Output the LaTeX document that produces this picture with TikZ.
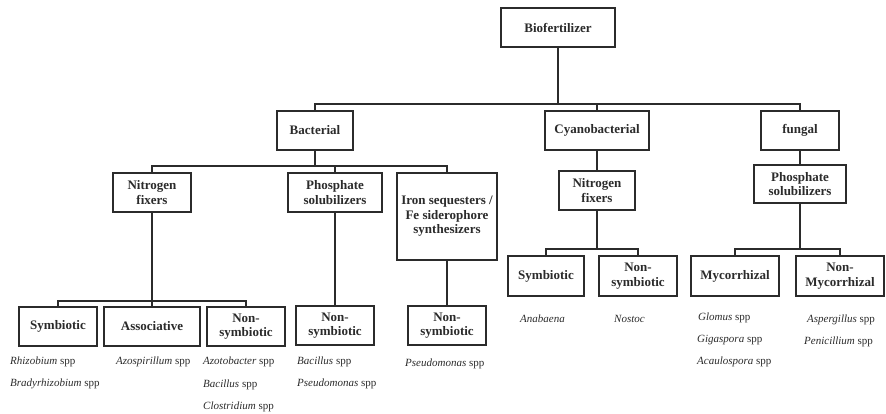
\documentclass[tikz,border=0pt]{standalone}
\usepackage{fontspec}
\setmainfont{Liberation Serif}
\usepackage{tikz}
\usetikzlibrary{positioning}
\definecolor{inkgray}{HTML}{2B2B2B}

\begin{document}
\begin{tikzpicture}[
    x=1pt, y=-1pt,
    box/.style={draw=inkgray, line width=1.5pt, fill=white, text=inkgray, align=center,
      font=\fontsize{13}{14.5}\selectfont\bfseries, minimum height=39pt, inner xsep=2pt, inner ysep=1pt},
    spp/.style={anchor=west, text=inkgray, font=\fontsize{11}{13}\selectfont,
      text height=8pt, text depth=2.5pt, inner sep=0pt},
    link/.style={line width=1.5pt, draw=inkgray}
  ]
    \useasboundingbox (0,0) rectangle (886,413);

    \node[box, minimum width=114pt] (bio) at (558,27.5) {Biofertilizer};
    \node[box, minimum width=76pt] (bact) at (315,130.5) {Bacterial};
    \node[box, minimum width=104pt] (cyano) at (597,130.5) {Cyanobacterial};
    \node[box, minimum width=78pt] (fung) at (800,130.5) {fungal};

    \node[box, minimum width=78pt] (nfix) at (152,192.5) {Nitrogen\\fixers};
    \node[box, minimum width=94pt] (psol) at (335,192.5) {Phosphate\\solubilizers};
    \node[box, minimum width=100pt, minimum height=87pt] (iron) at (447,216.5) {Iron sequesters /\\Fe siderophore\\synthesizers};
    \node[box, minimum width=76pt] (cnfix) at (597,190.5) {Nitrogen\\fixers};
    \node[box, minimum width=92pt, minimum height=38pt] (fpsol) at (800,184) {Phosphate\\solubilizers};

    \node[box, minimum width=78pt] (bsym) at (58,326.5) {Symbiotic};
    \node[box, minimum width=96pt] (bassoc) at (152,326.5) {Associative};
    \node[box, minimum width=78pt] (bnon) at (246,326.5) {Non-\\symbiotic};
    \node[box, minimum width=78pt] (pnon) at (335,325.5) {Non-\\symbiotic};
    \node[box, minimum width=78pt] (inon) at (447,325.5) {Non-\\symbiotic};
    \node[box, minimum width=76pt, minimum height=40pt] (csym) at (546,276) {Symbiotic};
    \node[box, minimum width=78pt, minimum height=40pt] (cnon) at (638,276) {Non-\\symbiotic};
    \node[box, minimum width=88pt, minimum height=40pt] (myc) at (735,276) {Mycorrhizal};
    \node[box, minimum width=88pt, minimum height=40pt] (nmyc) at (840,276) {Non-\\Mycorrhizal};

    \node[spp] (rhizo) at (10,362) {\textit{Rhizobium} spp};
    \node[spp] (brady) at (10,383.5) {\textit{Bradyrhizobium} spp};
    \node[spp] (azosp) at (116,362) {\textit{Azospirillum} spp};
    \node[spp] (azoto) at (203,362) {\textit{Azotobacter} spp};
    \node[spp] (bacil) at (203,385) {\textit{Bacillus} spp};
    \node[spp] (clost) at (203,407) {\textit{Clostridium} spp};
    \node[spp] (pbacil) at (297,362) {\textit{Bacillus} spp};
    \node[spp] (ppseu) at (297,383.5) {\textit{Pseudomonas} spp};
    \node[spp] (ipseu) at (405,364) {\textit{Pseudomonas} spp};
    \node[spp] (anab) at (520,320) {\textit{Anabaena}};
    \node[spp] (nost) at (614,320) {\textit{Nostoc}};
    \node[spp] (glom) at (698,318) {\textit{Glomus} spp};
    \node[spp] (giga) at (697,340) {\textit{Gigaspora} spp};
    \node[spp] (acau) at (697,362) {\textit{Acaulospora} spp};
    \node[spp] (asper) at (807,320) {\textit{Aspergillus} spp};
    \node[spp] (penic) at (804,342) {\textit{Penicillium} spp};

    \draw[link] (bio.south) -- ++(0,56) coordinate (topbar);
    \draw[link] (bact.north) |- (topbar) -| (fung.north);
    \draw[link] (topbar) -| (cyano.north);

    \draw[link] (bact.south) -- ++(0,15) coordinate (bactbar);
    \draw[link] (nfix.north) |- (bactbar) -| (iron.north);
    \draw[link] (bactbar) -| (psol.north);

    \draw[link] (nfix.south) -- ++(0,88) coordinate (nfixbar);
    \draw[link] (bsym.north) |- (nfixbar) -| (bnon.north);
    \draw[link] (nfixbar) -- (bassoc.north);
    \draw[link] (psol.south) -- (pnon.north);
    \draw[link] (iron.south) -- (inon.north);

    \draw[link] (cyano.south) -- (cnfix.north);
    \draw[link] (cnfix.south) -- ++(0,38) coordinate (cnfixbar);
    \draw[link] (csym.north) |- (cnfixbar) -| (cnon.north);

    \draw[link] (fung.south) -- (fpsol.north);
    \draw[link] (fpsol.south) -- ++(0,45) coordinate (fpsolbar);
    \draw[link] (myc.north) |- (fpsolbar) -| (nmyc.north);
  \end{tikzpicture}
\end{document}
